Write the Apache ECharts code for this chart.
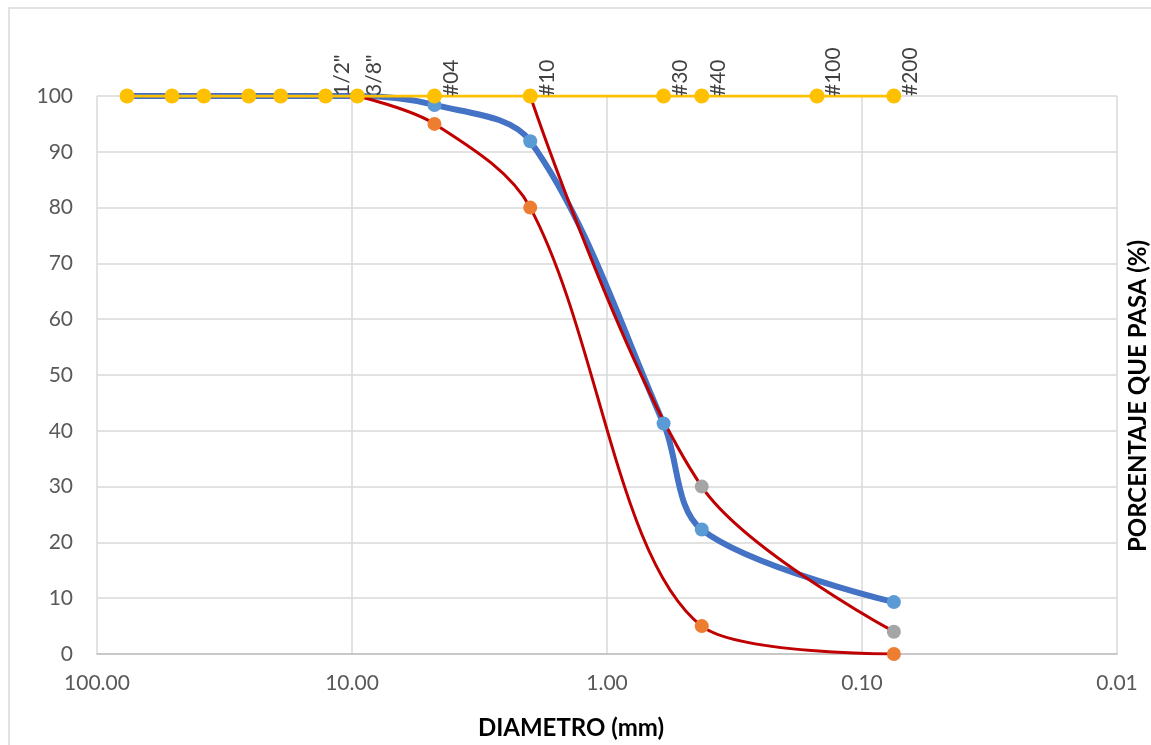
<!DOCTYPE html>
<html>
<head>
<meta charset="utf-8">
<script src="https://cdn.jsdelivr.net/npm/echarts@6/dist/echarts.min.js"></script>
<style>
  html, body { margin: 0; padding: 0; background: #fff; }
  #curva-granulometrica { width: 1151px; height: 745px; }
</style>
</head>
<body>
<div id="curva-granulometrica"></div>
<script>
// tamices (mm) y su nombre
const sieveSizes = [76.2, 50.8, 38.1, 25.4, 19.05, 12.7, 9.525, 4.75, 2.0, 0.6, 0.425, 0.15, 0.075];
const sieveLabels = ['', '', '', '', '', '1/2"', '3/8"', '#04', '#10', '#30', '#40', '#100', '#200'];
const sievePass = [100, 100, 100, 100, 100, 100, 100, 100, 100, 100, 100, 100, 100];

// muestra
const sampleSizes = [76.2, 50.8, 38.1, 25.4, 19.05, 12.7, 9.525, 4.75, 2.0, 0.6, 0.425, 0.075];
const samplePass = [100, 100, 100, 100, 100, 100, 100, 98.4, 91.9, 41.3, 22.3, 9.3];

// limite inferior
const lowerSizes = [9.525, 4.75, 2.0, 0.425, 0.075];
const lowerPass = [100, 95, 80, 5, 0];

// limite superior
const upperSizes = [2.0, 0.425, 0.075];
const upperPass = [100, 30, 4];

const yTicks = { min: 0, max: 100, interval: 10 };

const pairs = (xs, ys) => xs.map((x, i) => [x, ys[i]]);
const font = 'Lato, "Liberation Sans", sans-serif';

const chart = echarts.init(document.getElementById('curva-granulometrica'));

chart.setOption({
  animation: false,
  grid: {
    left: 97,
    right: 34,
    top: 96,
    bottom: 87,
    containLabel: false,
  },
  graphic: [
    {
      type: 'rect',
      shape: { x: 9, y: 8, width: 1300, height: 900 },
      style: { fill: 'none', stroke: '#d9d9d9', lineWidth: 1.5 },
      silent: true,
    },
    {
      type: 'text',
      x: 1138,
      y: 396,
      rotation: Math.PI / 2,
      style: {
        text: 'PORCENTAJE QUE PASA (%)',
        font: 'bold 24px ' + font,
        fill: '#000',
        align: 'center',
        verticalAlign: 'middle',
      },
    },
  ],
  xAxis: {
    type: 'log',
    logBase: 10,
    min: 0.01,
    max: 100,
    inverse: true,
    name: 'DIAMETRO (mm)',
    nameLocation: 'middle',
    nameGap: 62,
    nameTextStyle: {
      fontFamily: font,
      fontSize: 24,
      fontWeight: 'bold',
      color: '#000',
      padding: [0, 72, 0, 0],
    },
    axisLine: { show: true, lineStyle: { color: '#bfbfbf', width: 1.5 } },
    axisTick: { show: false },
    axisLabel: {
      margin: 19,
      fontFamily: font,
      fontSize: 21,
      color: '#595959',
      formatter: (v) => Number(v).toFixed(2),
    },
    splitLine: { show: true, lineStyle: { color: '#d9d9d9', width: 1.5 } },
  },
  yAxis: {
    type: 'value',
    min: yTicks.min,
    max: yTicks.max,
    interval: yTicks.interval,
    axisLine: { show: false },
    axisTick: { show: false },
    axisLabel: {
      margin: 24,
      fontFamily: font,
      fontSize: 21,
      color: '#595959',
    },
    splitLine: { show: true, lineStyle: { color: '#d9d9d9', width: 1.5 } },
  },
  series: [
    {
      name: 'Muestra',
      type: 'line',
      data: pairs(sampleSizes, samplePass),
      smooth: 0.33,
      symbol: 'circle',
      symbolSize: 14,
      showAllSymbol: true,
      lineStyle: { color: '#4472c4', width: 6 },
      itemStyle: { color: '#5b9bd5' },
    },
    {
      name: 'Limite inferior',
      type: 'line',
      data: pairs(lowerSizes, lowerPass),
      smooth: 0.33,
      symbol: 'circle',
      symbolSize: 14,
      showAllSymbol: true,
      lineStyle: { color: '#c00000', width: 3 },
      itemStyle: { color: '#ed7d31' },
    },
    {
      name: 'Limite superior',
      type: 'line',
      data: pairs(upperSizes, upperPass),
      smooth: 0.33,
      symbol: 'circle',
      symbolSize: 14,
      showAllSymbol: true,
      lineStyle: { color: '#c00000', width: 3 },
      itemStyle: { color: '#a5a5a5' },
    },
    {
      name: 'Tamices',
      type: 'line',
      data: pairs(sieveSizes, sievePass),
      symbol: 'circle',
      symbolSize: 15,
      showAllSymbol: true,
      lineStyle: { color: '#ffc000', width: 3 },
      itemStyle: { color: '#ffc000' },
      label: {
        show: true,
        position: 'right',
        rotate: 90,
        distance: 9,
        fontFamily: font,
        fontSize: 21,
        color: '#404040',
        formatter: (p) => sieveLabels[p.dataIndex],
      },
    },
  ],
});
</script>
</body>
</html>
